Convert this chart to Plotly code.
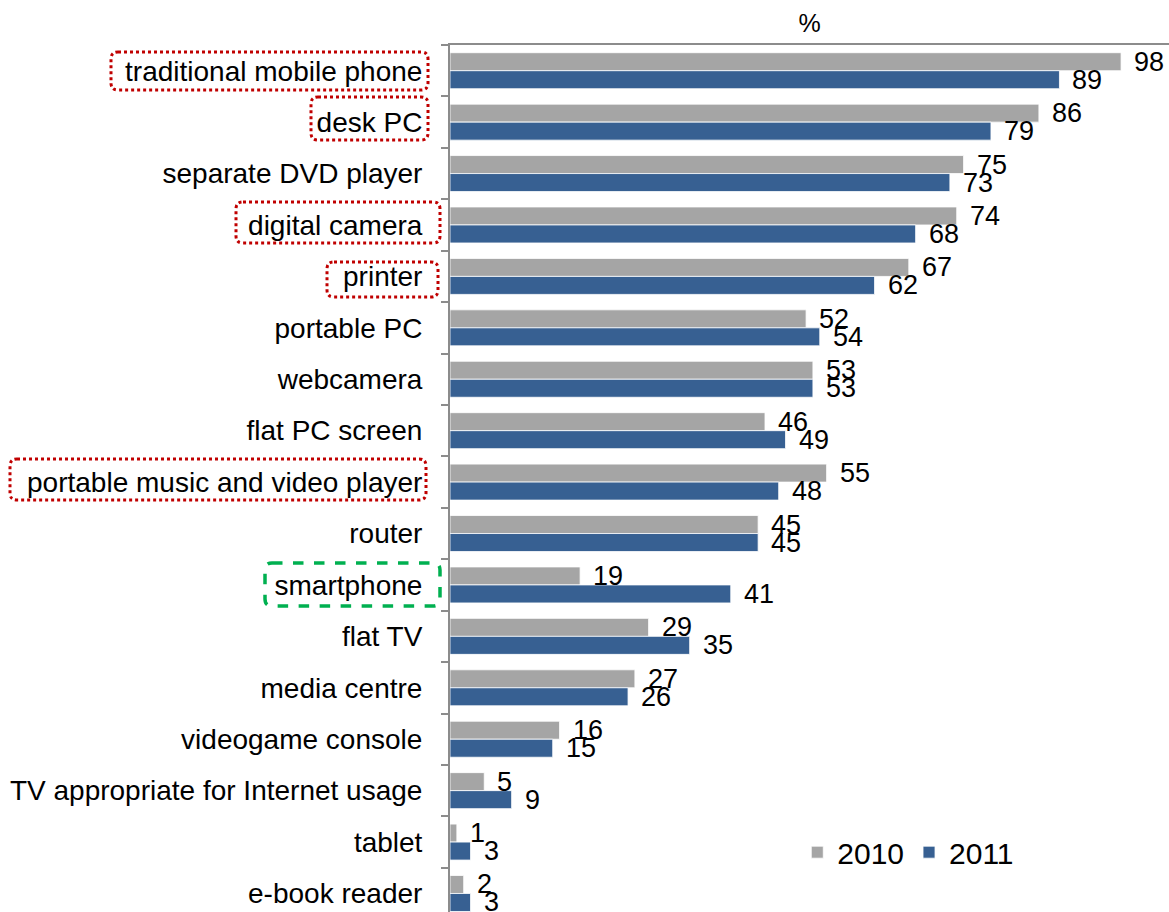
import plotly.graph_objects as go

# Household device ownership, share of respondents (%)
categories = [
    "traditional mobile phone", "desk PC", "separate DVD player", "digital camera",
    "printer", "portable PC", "webcamera", "flat PC screen",
    "portable music and video player", "router", "smartphone", "flat TV",
    "media centre", "videogame console", "TV appropriate for Internet usage",
    "tablet", "e-book reader",
]
values_2010 = [98, 86, 75, 74, 67, 52, 53, 46, 55, 45, 19, 29, 27, 16, 5, 1, 2]
values_2011 = [89, 79, 73, 68, 62, 54, 53, 49, 48, 45, 41, 35, 26, 15, 9, 3, 3]

# categories outlined by a dotted red frame, and the one with a green dashed frame
dotted_red = ["traditional mobile phone", "desk PC", "digital camera", "printer",
              "portable music and video player"]
dashed_green = ["smartphone"]

GRAY = "#A5A5A5"
BLUE = "#376092"
FONT = "Liberation Sans"

W, H = 1169, 912
ML, MR, MT, MB = 450, 0, 45, 0

fig = go.Figure()
fig.add_trace(go.Bar(y=categories, x=values_2010, name="2010", orientation="h",
                     marker=dict(color=GRAY, line=dict(color="white", width=0.8))))
fig.add_trace(go.Bar(y=categories, x=values_2011, name="2011", orientation="h",
                     marker=dict(color=BLUE, line=dict(color="white", width=0.8))))

# value labels next to the bar ends
half = 0.175
for i, (a, b) in enumerate(zip(values_2010, values_2011)):
    for v, off in ((a, -half), (b, half)):
        fig.add_annotation(x=v, y=i + off, text=str(v), showarrow=False,
                           xanchor="left", yanchor="middle", xshift=11,
                           font=dict(family=FONT, size=27, color="black"))

# label frames (paper coordinates derived from the plot area in pixels)
pw, ph = W - ML - MR, H - MT - MB


def px_x(px):
    return (px - ML) / pw


def px_y(py):
    return (H - MB - py) / ph


def rounded_rect(x0, y0, x1, y1, r=7):
    rx, ry = r / pw, r / ph
    X0, X1 = px_x(x0), px_x(x1)
    Y0, Y1 = px_y(y0), px_y(y1)  # Y0 top, Y1 bottom
    return (f"M {X0 + rx} {Y0} L {X1 - rx} {Y0} Q {X1} {Y0} {X1} {Y0 - ry} "
            f"L {X1} {Y1 + ry} Q {X1} {Y1} {X1 - rx} {Y1} "
            f"L {X0 + rx} {Y1} Q {X0} {Y1} {X0} {Y1 + ry} "
            f"L {X0} {Y0 - ry} Q {X0} {Y0} {X0 + rx} {Y0} Z")


frames = {
    "traditional mobile phone": (111, 52, 428, 90),
    "desk PC": (311, 97, 428, 140),
    "digital camera": (236, 202, 440, 243),
    "printer": (327, 262, 438, 297),
    "portable music and video player": (10, 459, 426, 500),
    "smartphone": (265, 563, 440, 606),
}
for name, (x0, y0, x1, y1) in frames.items():
    if name in dashed_green:
        line = dict(color="#00B050", width=3.5, dash="dash")
    else:
        line = dict(color="#C00000", width=3, dash="dot")
    fig.add_shape(type="path", path=rounded_rect(x0, y0, x1, y1),
                  xref="paper", yref="paper", line=line, layer="above")

fig.update_layout(
    width=W, height=H,
    margin=dict(l=ML, r=MR, t=MT, b=MB),
    paper_bgcolor="white", plot_bgcolor="white",
    barmode="group", bargap=0.3, bargroupgap=0,
    font=dict(family=FONT, color="black"),
    showlegend=True,
    legend=dict(orientation="h", x=0.483, y=0.069, xanchor="left", yanchor="middle",
                font=dict(family=FONT, size=30), itemwidth=30,
                bgcolor="rgba(0,0,0,0)", traceorder="normal"),
    xaxis=dict(side="top", range=[0, 105], showgrid=False, zeroline=False,
               showline=True, linecolor="#8C8C8C", linewidth=2,
               showticklabels=False, ticks="",
               title=dict(text="%", font=dict(family=FONT, size=25), standoff=3)),
    yaxis=dict(type="category", categoryorder="array", categoryarray=categories,
               range=[16.36, -0.5], showgrid=False, zeroline=False,
               showline=True, linecolor="#8C8C8C", linewidth=2,
               ticks="outside", ticklen=7, tickcolor="#8C8C8C", tickwidth=2,
               tickson="boundaries", ticklabelstandoff=20,
               tickfont=dict(family=FONT, size=28, color="black")),
)

fig.write_html("out.html")
